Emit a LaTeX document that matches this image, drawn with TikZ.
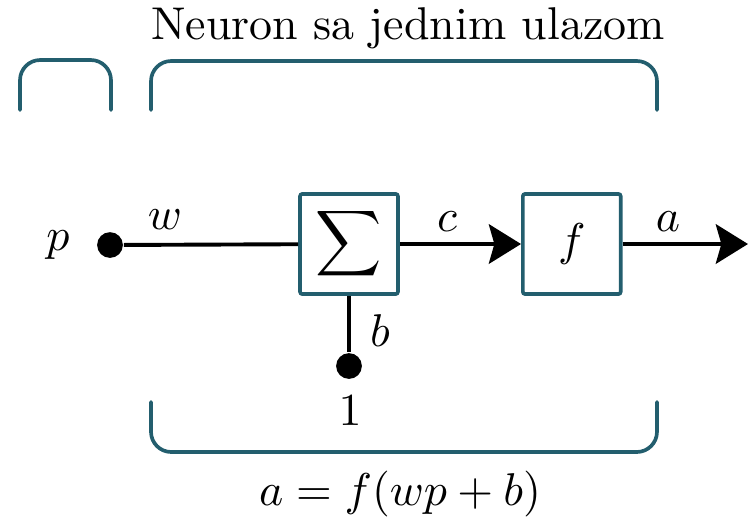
\documentclass[tikz,border=0pt]{standalone}
\usetikzlibrary{arrows.meta}
\usetikzlibrary{positioning}
\definecolor{tealblue}{HTML}{235E6E}

\begin{document}
\begin{tikzpicture}[
    x=0.2177pt, y=-0.2177pt,
    node distance=26.4pt,
    block/.style={rectangle, draw=tealblue, line width=0.8pt,
      minimum width=21.3pt, minimum height=21.8pt,
      rounded corners=0.5pt, inner sep=0pt},
    brace/.style={draw=tealblue, line width=0.8pt,
      rounded corners=4.4pt, line cap=round},
    wire/.style={line width=0.85pt},
    arrow/.style={-{Stealth[length=7pt, width=8.6pt, inset=1.2pt]}, wire},
    dot/.style={circle, fill, inner sep=0pt, minimum size=5.6pt},
  ]
  \useasboundingbox (0,0) rectangle (752,524);

  \node[dot] (input) at (110,245) {};
  \node (p) at (58,245) {$p$};
  \node[block] (sum) at (349,244) {$\displaystyle\sum$};
  \node[block, right=of sum] (act) {$f$};
  \node[dot] (one) at (349,366) {};
  \coordinate (out) at (748,244);

  \draw[wire] (input) -- (sum);
  \draw[arrow] (sum) -- (act);
  \draw[arrow] (act) -- (out);
  \draw[wire] (sum) -- (one);

  \node (wlabel) at (165,220) {$w$};
  \node (clabel) at (447,222) {$c$};
  \node (alabel) at (668,222) {$a$};
  \node (blabel) at (380,331) {$b$};
  \node (onelabel) at (350,411) {$1$};

  % brackets
  \draw[brace] (20,110) -- (20,60) -- (111,60) -- (111,110);
  \draw[brace] (151,110) -- (151,61) -- (657,61) -- (657,110);
  \draw[brace] (151,402) -- (151,452) -- (657,452) -- (657,402);

  \node (title) at (408,28) {Neuron sa jednim ulazom};
  \node (formula) at (400,494) {$a = f(wp + b)$};
\end{tikzpicture}
\end{document}
